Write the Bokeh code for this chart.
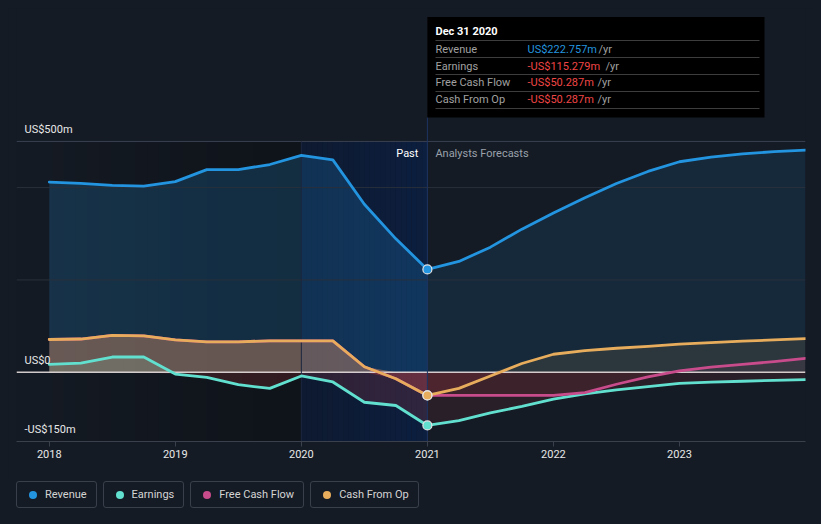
import numpy as np
from bokeh.plotting import figure
from bokeh.models import Range1d, FixedTicker, Div
from bokeh.layouts import column
from bokeh.core.properties import value
from bokeh.embed import file_html
from bokeh.resources import INLINE

# ---------------- data (US$ m) ----------------
past_years = [2018.0, 2018.25, 2018.5, 2018.75, 2019.0, 2019.25, 2019.5, 2019.75,
              2020.0, 2020.25, 2020.5, 2020.75, 2021.0]
revenue_past = [412, 409, 405, 403, 413, 439, 439, 450, 470, 460, 364, 289, 222.757]
earnings_past = [17, 20, 33, 33, -4, -11, -27, -35, -8, -21, -65, -72, -115.279]
cfo_past = [71, 72, 80, 79, 70, 66, 66, 68, 68, 68, 12, -14, -50.287]
fcf_past = [71, 72, 80, 79, 70, 66, 66, 68, 68, 68, 12, -14, -50.287]

fc_years = [2021.0, 2021.25, 2021.5, 2021.75, 2022.0, 2022.25, 2022.5, 2022.75,
            2023.0, 2023.25, 2023.5, 2023.75, 2024.0]
revenue_fc = [222.757, 240, 271, 310, 345, 378, 409, 435, 456, 466, 473, 478, 481]
earnings_fc = [-115.279, -105, -88, -74, -58, -47, -38, -31, -24, -21.5, -19.5, -17.5, -16]
cfo_fc = [-50.287, -35, -8, 19, 39, 47, 52, 56, 61, 64, 67.5, 70, 73]
fcf_fc = [-50.287, -50.287, -50.287, -50.287, -50, -44, -26, -10, 3, 11, 17, 23, 30]

series_names = ["Revenue", "Earnings", "Free Cash Flow", "Cash From Op"]
series_colors = ["#2394df", "#62e0cf", "#c84b8c", "#e8ad5c"]

x_ticks = [2018, 2019, 2020, 2021, 2022, 2023]
y_label_vals = [500, 0, -150]
y_labels = ["US$500m", "US$0", "-US$150m"]
grid_vals = [500, 400, 200]

band_start = 2020.0
now_year = 2021.0
tooltip_title = "Dec 31 2020"
tooltip_vals = ["US$222.757m", "-US$115.279m", "-US$50.287m", "-US$50.287m"]
tooltip_val_colors = ["#2394df", "#f04646", "#f04646", "#f04646"]

# ---------------- styling ----------------
BG = "#151b24"
NEG = "#e5484d"
FONT = "Roboto"
XS, XE = 2017.74, 2024.0
YS, YE = -150, 788
FRAME_L, FRAME_W, FRAME_T, FRAME_H = 16, 789, 8, 433


def px2x(px):
    return XS + (px - FRAME_L) * (XE - XS) / FRAME_W


def py2y(py):
    return YE - (py - FRAME_T) * (YE - YS) / FRAME_H


p = figure(width=805, height=470, output_backend="svg", toolbar_location=None,
           x_range=Range1d(XS, XE), y_range=Range1d(YS, YE),
           y_axis_location=None, min_border_left=8, min_border_right=8,
           min_border_top=0, min_border_bottom=37)
p.background_fill_color = BG
p.border_fill_color = BG
p.outline_line_color = None
p.xgrid.visible = False
p.ygrid.visible = False

# x axis
ax = p.xaxis[0]
ax.ticker = FixedTicker(ticks=x_ticks)
ax.axis_line_color = "#3a414c"
ax.major_tick_line_color = "#3a414c"
ax.major_tick_out = 5
ax.major_tick_in = 0
ax.minor_tick_line_color = None
ax.major_label_text_color = "#e8e8e8"
ax.major_label_text_font = FONT
ax.major_label_text_font_size = "11px"
ax.major_label_standoff = 3

# past shading: darkening gradient then blue band
n = 24
edges = np.linspace(XS, band_start, n + 1)
p.quad(left=edges[:-1], right=edges[1:], bottom=YS, top=grid_vals[0],
       fill_color="black", fill_alpha=[0.28 * (i + 0.5) / n for i in range(n)], line_color=None)
edges = np.linspace(band_start, now_year, n + 1)
p.quad(left=[band_start], right=[now_year], bottom=YS, top=grid_vals[0],
       fill_color="black", fill_alpha=0.28, line_color=None)
p.quad(left=edges[:-1], right=edges[1:], bottom=YS, top=grid_vals[0],
       fill_color="#0a3480", fill_alpha=[0.22 + 0.14 * (i + 0.5) / n for i in range(n)], line_color=None)

# fills
past_all = [revenue_past, earnings_past, fcf_past, cfo_past]
fc_all = [revenue_fc, earnings_fc, fcf_fc, cfo_fc]
pos_alpha_past = [0.2, 0.2, 0.15, 0.3]
pos_alpha_fc = [0.12, 0.1, 0.08, 0.1]
for vals_p, vals_f, col, ap, af in zip(past_all, fc_all, series_colors, pos_alpha_past, pos_alpha_fc):
    for xs, vals, a, na in ((past_years, vals_p, ap, 0.16), (fc_years, vals_f, af, 0.1)):
        v = np.array(vals, dtype=float)
        p.varea(x=xs, y1=0, y2=np.maximum(v, 0), fill_color=col, fill_alpha=a)
        p.varea(x=xs, y1=np.minimum(v, 0), y2=0, fill_color=NEG, fill_alpha=na)

# grid lines and zero line
p.segment(x0=XS, x1=XE, y0=grid_vals, y1=grid_vals,
          line_color=["#394050", "#28303c", "#28303c"], line_width=1)
p.segment(x0=[XS], x1=[XE], y0=[0], y1=[0], line_color="#e6dede", line_width=1.5, line_alpha=0.9)
# vertical markers
p.segment(x0=[band_start], x1=[band_start], y0=[YS], y1=[grid_vals[0]],
          line_color="#1c2740", line_width=1)
p.segment(x0=[now_year], x1=[now_year], y0=[YS], y1=[py2y(117)],
          line_color="#1d3564", line_width=1)

# lines
for vals_p, vals_f, col in zip(past_all, fc_all, series_colors):
    p.line(x=past_years + fc_years[1:], y=list(vals_p) + list(vals_f[1:]),
           line_color=col, line_width=2.8, line_join="round", line_cap="round")

# markers at now
order = [2, 3, 1, 0]
p.scatter(x=[now_year] * 4, y=[past_all[i][-1] for i in order], size=9,
          fill_color=[series_colors[i] for i in order], line_color="#e6e6e6", line_width=1.2)

# y labels
p.text(x=[XS] * 3, y=y_label_vals, text=y_labels, x_offset=8, y_offset=-12,
       text_font=value(FONT), text_font_size="11px", text_color="#e8e8e8",
       text_baseline="alphabetic", text_align="left")

# Past / Analysts Forecasts
p.text(x=[now_year], y=[py2y(153)], text=["Past"], x_offset=-9,
       text_font=value(FONT), text_font_size="11px", text_color="#ffffff",
       text_baseline="middle", text_align="right")
p.text(x=[now_year], y=[py2y(153)], text=["Analysts Forecasts"], x_offset=8,
       text_font=value(FONT), text_font_size="11px", text_color="#9aa1ab",
       text_baseline="middle", text_align="left")

# tooltip box
p.quad(left=[now_year], right=[px2x(764)], top=[py2y(16.5)], bottom=[py2y(117)],
       fill_color="black", line_color=None)
p.text(x=[px2x(435)], y=[py2y(31)], text=[tooltip_title], text_font=value(FONT),
       text_font_size="11px", text_font_style="bold", text_color="#ffffff",
       text_baseline="middle")
sep_py = [40, 57, 74, 91, 108]
p.segment(x0=px2x(435), x1=px2x(759), y0=[py2y(s) for s in sep_py], y1=[py2y(s) for s in sep_py],
          line_color="#3d3d3d", line_width=1)
row_py = [48.5, 65.5, 82, 99]
p.text(x=[px2x(435)] * 4, y=[py2y(r) for r in row_py], text=series_names,
       text_font=value(FONT), text_font_size="11px", text_color="#a0a0a0", text_baseline="middle")
p.text(x=[px2x(527)] * 4, y=[py2y(r) for r in row_py], text=tooltip_vals,
       text_font=value(FONT), text_font_size="11px", text_color=tooltip_val_colors,
       text_baseline="middle")
yr_px = [598, 605, 597, 597]
p.text(x=[px2x(x) for x in yr_px], y=[py2y(r) for r in row_py], text=["/yr"] * 4,
       text_font=value(FONT), text_font_size="11px", text_color="#a0a0a0", text_baseline="middle")

# legend
items = "".join(
    f'<div style="display:flex;align-items:center;box-sizing:border-box;height:27px;'
    f'padding:0 9px 0 12px;border:1px solid #3a404b;border-radius:3px;">'
    f'<span style="display:inline-block;width:8px;height:8px;border-radius:50%;'
    f'background:{c};margin-right:8px;"></span>{nm}</div>'
    for nm, c in zip(series_names, series_colors))
legend = Div(text=f'<div style="display:flex;gap:6px;margin:3px 0 0 8px;font-family:Roboto;'
                  f'font-size:11px;color:#d4d4d4;">{items}</div>',
             width=805, height=38, margin=(0, 0, 0, 0))

layout = column(p, legend, spacing=0)
html = file_html(layout, INLINE)
html = html.replace("</head>", f"<style>html,body{{background:{BG};margin:0;}} body{{margin:8px;}}</style></head>", 1)
open("out.html", "w").write(html)
